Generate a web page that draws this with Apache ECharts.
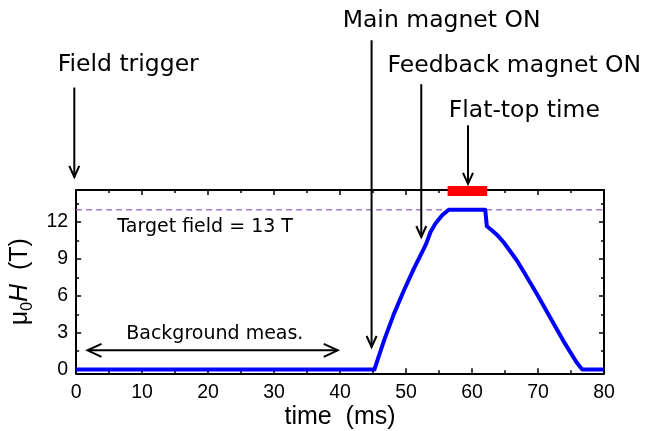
<!DOCTYPE html>
<html><head><meta charset="utf-8">
<script src="https://cdn.jsdelivr.net/npm/echarts@6/dist/echarts.min.js"></script>
<style>html,body{margin:0;padding:0;background:#fff}#c{width:646px;height:431px}</style>
</head><body><div id="c"></div>
<script>
// ---- data ----
const timeMs = [0, 45.2, 46.67, 48.18, 49.69, 51.19, 52.7, 53.06, 53.71, 54.46, 55.47, 56.47, 62.0, 62.25, 63.0, 63.76, 64.76, 65.76, 66.77, 67.77, 69.79, 71.8, 73.79, 75.81, 76.71, 80];
const fieldT = [0, 0, 2.38, 4.55, 6.45, 8.21, 9.84, 10.24, 11.19, 11.87, 12.54, 13.0, 13.0, 11.65, 11.33, 10.97, 10.37, 9.64, 8.89, 8.02, 6.18, 4.28, 2.38, 0.62, 0, 0];
const flatTopStart = 56.3;
const flatTopEnd = 62.3;
const targetField = 13;
const yMajorTicks = [0, 3, 6, 9, 12];
const yMinorTicks = [1.5, 4.5, 7.5, 10.5, 13.5];
const xTickInterval = 10;

// annotations (data coordinates)
const noteTexts = ['Field trigger', 'Main magnet ON', 'Feedback magnet ON', 'Flat-top time', 'Target field = 13 T', 'Background meas.'];
const noteX = [-2.79, 40.4, 47.19, 56.47, 6.25, 7.6];
const noteY = [24.1, 27.64, 24.0, 20.33, 11.06, 2.38];
const noteSize = [23.5, 23.5, 23.5, 23.5, 19, 19];

const arrowFromX = [-0.27, 44.78, 52.31, 59.39];
const arrowFromY = [22.93, 26.77, 23.2, 19.86];
const arrowToY = [15.66, 1.84, 10.78, 15.1];
const bgArrowY = 1.57;
const bgArrowX = [1.73, 39.65];

const FONT = 'Liberation Sans, Arial, sans-serif';
const black = '#000';

function xAxisDef(pos, labels) {
  return {
    type: 'value', position: pos, min: 0, max: 80, interval: xTickInterval,
    axisLine: { show: true, onZero: false, lineStyle: { color: black, width: 2 } },
    axisTick: { show: true, inside: true, length: 5, lineStyle: { color: black, width: 1.5 } },
    minorTick: { show: true, splitNumber: 2, length: 3, lineStyle: { color: black, width: 1.5 } },
    axisLabel: { show: labels, fontSize: 19.5, color: black, fontFamily: FONT, margin: 9 },
    splitLine: { show: false }, minorSplitLine: { show: false },
    name: labels ? 'time  (ms)' : '', nameLocation: 'middle', nameGap: 31,
    nameTextStyle: { fontSize: 25, color: black, fontFamily: FONT }
  };
}
function yAxisDef(pos, ticks, len, line, labels) {
  const a = {
    type: 'value', position: pos, min: -0.3, max: 14.6,
    axisLine: { show: line, onZero: false, lineStyle: { color: black, width: 2 } },
    axisTick: { show: true, inside: true, length: len, customValues: ticks, lineStyle: { color: black, width: 1.5 } },
    axisLabel: { show: labels, customValues: ticks, fontSize: 19.5, color: black, fontFamily: FONT, margin: 8 },
    splitLine: { show: false }
  };
  if (labels) {
    a.name = '{a|μ}{s|0}{i|H}{a|  (T)}';
    a.nameLocation = 'middle';
    a.nameGap = 32;
    a.nameRotate = 90;
    a.nameTextStyle = {
      fontSize: 25, color: black, fontFamily: FONT,
      rich: {
        a: { fontSize: 25, fontFamily: FONT, color: black, lineHeight: 30 },
        i: { fontSize: 25, fontFamily: FONT, fontStyle: 'italic', color: black, lineHeight: 30 },
        s: { fontSize: 16, fontFamily: FONT, color: black, lineHeight: 16, verticalAlign: 'bottom' }
      }
    };
  }
  return a;
}

const option = {
  animation: false,
  backgroundColor: '#fff',
  grid: { left: 73.5, right: 42, top: 190, bottom: 57.7, containLabel: false },
  xAxis: [xAxisDef('bottom', true), xAxisDef('top', false)],
  yAxis: [
    yAxisDef('left', yMajorTicks, 5, true, true),
    yAxisDef('right', yMajorTicks, 5, true, false),
    yAxisDef('left', yMinorTicks, 3, false, false),
    yAxisDef('right', yMinorTicks, 3, false, false)
  ],
  series: [
    {
      type: 'line', xAxisIndex: 0, yAxisIndex: 0, z: 1, silent: true,
      data: [[0, targetField], [80, targetField]],
      symbol: 'none', lineStyle: { color: '#a27ccc', width: 1.5, type: [6, 4] }
    },
    {
      type: 'line', xAxisIndex: 0, yAxisIndex: 0, z: 3, silent: true,
      data: timeMs.map((t, i) => [t, fieldT[i]]),
      symbol: 'none', lineStyle: { color: '#0000ff', width: 4, join: 'round' }
    },
    {
      type: 'line', xAxisIndex: 0, yAxisIndex: 0, z: 5, silent: true, clip: false,
      data: [[flatTopStart, 14.52], [flatTopEnd, 14.52]],
      symbol: 'none', lineStyle: { color: '#ff0000', width: 10, cap: 'butt' }
    }
  ]
};

const chart = echarts.init(document.getElementById('c'), null, { renderer: 'canvas' });
chart.setOption(option);

function P(x, y) { return chart.convertToPixel({ seriesIndex: 1 }, [x, y]); }
function head(tip, from, L, W) {
  const dx = tip[0] - from[0], dy = tip[1] - from[1];
  const n = Math.hypot(dx, dy), ux = dx / n, uy = dy / n;
  const bx = tip[0] - L * ux, by = tip[1] - L * uy;
  return [[bx - W * uy, by + W * ux], [tip[0], tip[1]], [bx + W * uy, by - W * ux]];
}
const g = [];
const st = { stroke: black, lineWidth: 2, fill: null };
for (let i = 0; i < arrowFromX.length; i++) {
  const a = P(arrowFromX[i], arrowFromY[i]);
  const b = P(arrowFromX[i], arrowToY[i]);
  g.push({ type: 'line', shape: { x1: a[0], y1: a[1], x2: b[0], y2: b[1] }, style: st, z: 10 });
  g.push({ type: 'polyline', shape: { points: head(b, a, 11, 5) }, style: st, z: 10 });
}
{
  const a = P(bgArrowX[0], bgArrowY), b = P(bgArrowX[1], bgArrowY);
  g.push({ type: 'line', shape: { x1: a[0], y1: a[1], x2: b[0], y2: b[1] }, style: st, z: 10 });
  g.push({ type: 'polyline', shape: { points: head(a, b, 14, 6.5) }, style: st, z: 10 });
  g.push({ type: 'polyline', shape: { points: head(b, a, 14, 6.5) }, style: st, z: 10 });
}
for (let i = 0; i < noteTexts.length; i++) {
  const p = P(noteX[i], noteY[i]);
  g.push({
    type: 'text', x: p[0], y: p[1] - 0.35 * noteSize[i], z: 10,
    style: { text: noteTexts[i], font: noteSize[i] + 'px "DejaVu Sans"', fill: black, align: 'left', verticalAlign: 'middle' }
  });
}
chart.setOption({ graphic: g });
</script>
</body></html>
